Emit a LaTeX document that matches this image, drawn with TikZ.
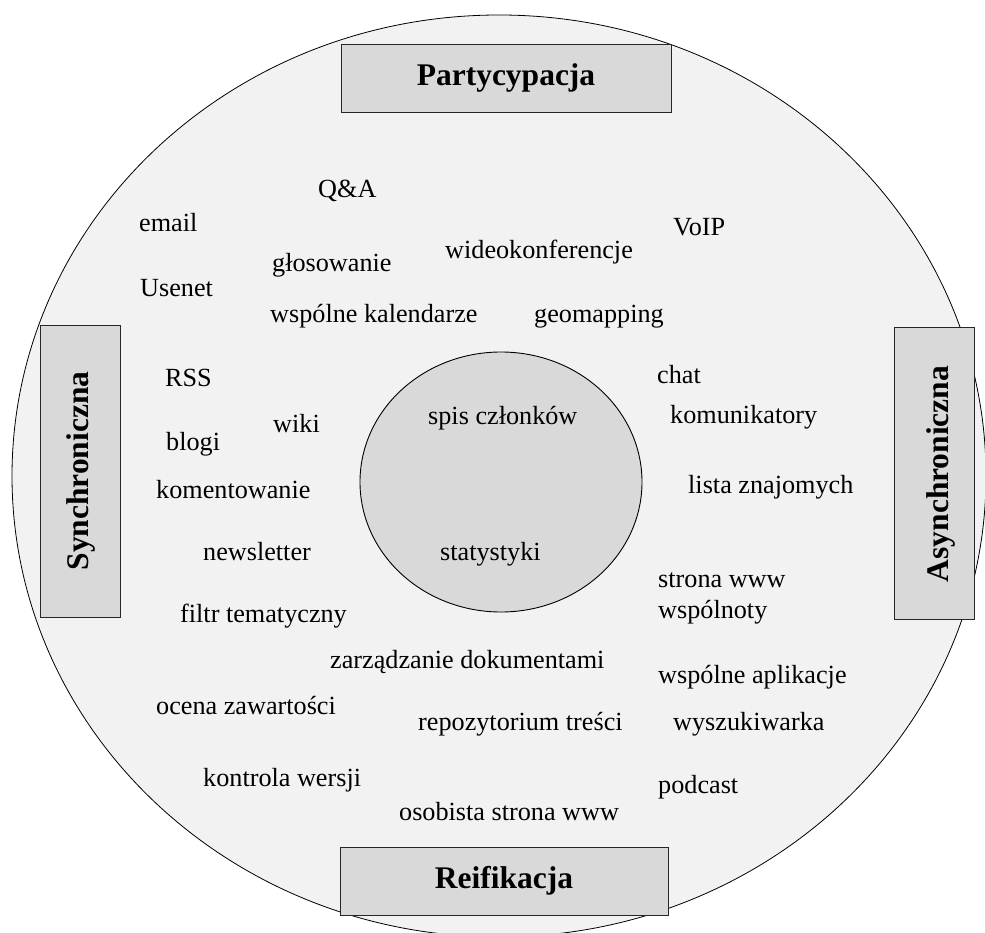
\documentclass[tikz,border=0pt]{standalone}
\usepackage{fontspec}
\setmainfont{Liberation Serif}
\definecolor{outerfill}{HTML}{F2F2F2}
\definecolor{boxfill}{HTML}{D9D9D9}

\begin{document}
\begin{tikzpicture}[x=1pt,y=-1pt,
    tool/.style={anchor=base west,inner sep=0pt,font=\fontsize{26.2}{31}\selectfont},
    dimbox/.style={draw=black!85,line width=1pt,fill=boxfill},
    dimtext/.style={anchor=base,inner sep=0pt,font=\fontsize{31.5}{36}\selectfont\bfseries}]
    \useasboundingbox (0,0) rectangle (985,933);
    % Draw outer and inner circle
    \draw[fill=outerfill,line width=0.8pt] (499,476) ellipse (487 and 461);
    \draw[fill=boxfill,line width=0.9pt] (501,482) ellipse (141 and 130);

    % Four dimensions
    \draw[dimbox] (341,45) rectangle (671,113);
    \draw[dimbox] (340,847) rectangle (668,915);
    \draw[dimbox] (40,325) rectangle (120,617);
    \draw[dimbox] (894,327) rectangle (974,619);
    \node[dimtext] (part) at (506,86) {Partycypacja};
    \node[dimtext] (reif) at (504,888) {Reifikacja};
    \node[dimtext,rotate=90] (sync) at (88,471) {Synchroniczna};
    \node[dimtext,rotate=90] (async) at (948,474) {Asynchroniczna};

    % Tools, upper half
    \node[tool] (qa) at (318,198) {Q\&A};
    \node[tool] (email) at (139,232) {email};
    \node[tool] (voip) at (673,236) {VoIP};
    \node[tool] (glos) at (272,272) {głosowanie};
    \node[tool] (wideo) at (445,259) {wideokonferencje};
    \node[tool] (usenet) at (140,297) {Usenet};
    \node[tool] (kal) at (270,323) {wspólne kalendarze};
    \node[tool] (geo) at (534,323) {geomapping};
    \node[tool] (rss) at (165,386) {RSS};
    \node[tool] (chat) at (657,383) {chat};
    \node[tool] (wiki) at (273,432) {wiki};
    \node[tool] (spis) at (428,424) {spis członków};
    \node[tool] (komun) at (670,423) {komunikatory};
    \node[tool] (blogi) at (166,450) {blogi};
    \node[tool] (koment) at (156,498) {komentowanie};
    \node[tool] (lista) at (688,493) {lista znajomych};

    % Tools, lower half
    \node[tool] (news) at (203,560) {newsletter};
    \node[tool] (stat) at (440,560) {statystyki};
    \node[tool] (strona) at (658,587) {strona www};
    \node[tool] (wspol) at (658,618) {wspólnoty};
    \node[tool] (filtr) at (180,622) {filtr tematyczny};
    \node[tool] (zarz) at (330,668) {zarządzanie dokumentami};
    \node[tool] (aplik) at (658,683) {wspólne aplikacje};
    \node[tool] (ocena) at (156,714) {ocena zawartości};
    \node[tool] (repo) at (418,730) {repozytorium treści};
    \node[tool] (wysz) at (673,730) {wyszukiwarka};
    \node[tool] (kontr) at (203,786) {kontrola wersji};
    \node[tool] (podcast) at (658,793) {podcast};
    \node[tool] (osob) at (399,820) {osobista strona www};
\end{tikzpicture}
\end{document}
